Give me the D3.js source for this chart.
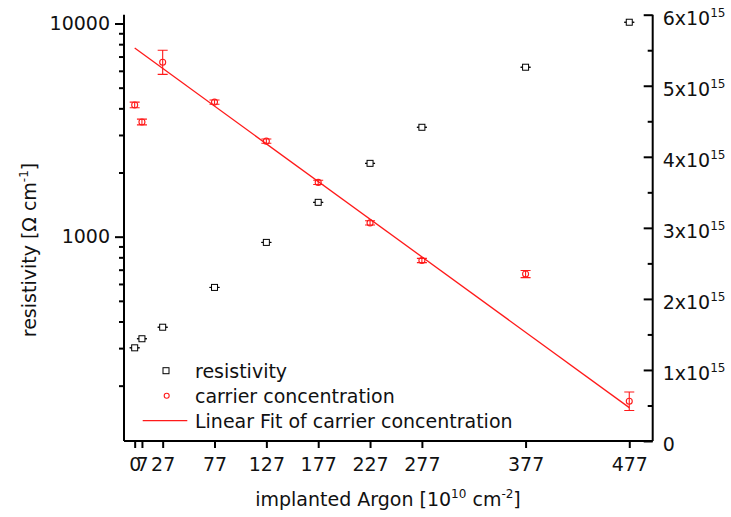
<!DOCTYPE html>
<html>
<head>
<meta charset="utf-8">
<script src="https://cdn.jsdelivr.net/npm/d3@7"></script>
<style>
  body { margin: 0; background: #fff; }
  svg { display: block; font-family: "DejaVu Sans", sans-serif; }
  .axis path, .axis line { stroke: #000; stroke-width: 2; }
</style>
</head>
<body>
<svg id="chart"></svg>
<script>
// implanted Argon dose [1e10 cm^-2]
const dose = [0, 7, 27, 77, 127, 177, 227, 277, 377, 477];
// resistivity [Ohm cm], left log axis
const resistivity = [301, 332, 376, 578, 940, 1449, 2208, 3260, 6237, 10140];
const resistivityErr = [0, 0, 0, 0, 0, 0, 0, 0, 0, 0];
// carrier concentration [cm^-3], right axis
const carrier = [4.73e15, 4.49e15, 5.33e15, 4.77e15, 4.22e15, 3.64e15, 3.07e15, 2.54e15, 2.35e15, 0.56e15];
const carrierErr = [0.04e15, 0.04e15, 0.17e15, 0.03e15, 0.03e15, 0.03e15, 0.03e15, 0.03e15, 0.05e15, 0.13e15];
// linear fit end points
const fitX = [0, 477];
const fitY = [5.53e15, 0.47e15];

const xTicks = [0, 7, 27, 77, 127, 177, 227, 277, 377, 477];
const leftMajor = [1000, 10000];
const leftMinor = [200, 300, 400, 500, 600, 700, 800, 900, 2000, 3000, 4000, 5000, 6000, 7000, 8000, 9000];
const rightMajor = [0, 1e15, 2e15, 3e15, 4e15, 5e15, 6e15];
const rightMinor = [0.5e15, 1.5e15, 2.5e15, 3.5e15, 4.5e15, 5.5e15];
const legendLabels = ['resistivity', 'carrier concentration', 'Linear Fit of carrier concentration'];

const width = 731, height = 517;
const margin = { top: 14.7, right: 78.3, bottom: 76, left: 124 };
const innerWidth = width - margin.left - margin.right;
const innerHeight = height - margin.top - margin.bottom;
const RED = '#ff1a1a';
const FONT = '"DejaVu Sans", sans-serif';

const svg = d3.select('#chart')
  .attr('width', width)
  .attr('height', height)
  .attr('viewBox', `0 0 ${width} ${height}`);

const g = svg.append('g').attr('transform', `translate(${margin.left}, ${margin.top})`);

const xScale = d3.scaleLinear().domain([-10.3, 499.6]).range([0, innerWidth]);
const yLeft = d3.scaleLog().domain([110, 11000]).range([innerHeight, 0]);
const yRight = d3.scaleLinear().domain([0, 6e15]).range([innerHeight, 0]);

function styleAxis(sel) {
  sel.attr('font-family', FONT).attr('font-size', 19);
  sel.selectAll('text').attr('fill', '#111');
}

// minor ticks only: drop the axis line and the empty labels
function minorOnly(sel) {
  sel.select('.domain').remove();
  sel.selectAll('text').remove();
}

// X axis
const xAxis = g.append('g')
  .attr('class', 'axis')
  .attr('transform', `translate(0, ${innerHeight})`)
  .call(d3.axisBottom(xScale).tickValues(xTicks).tickSize(7).tickSizeOuter(0).tickPadding(10).tickFormat(d3.format('d')))
  .call(styleAxis);
xAxis.select('.domain').attr('d', `M0,0H${innerWidth}`);

// Left axis (log)
g.append('g')
  .attr('class', 'axis')
  .call(d3.axisLeft(yLeft).tickValues(leftMinor).tickSize(5).tickSizeOuter(0).tickFormat(''))
  .call(minorOnly);
const leftAxis = g.append('g')
  .attr('class', 'axis')
  .call(d3.axisLeft(yLeft).tickValues(leftMajor).tickSize(9).tickSizeOuter(0).tickPadding(5).tickFormat(d3.format('d')))
  .call(styleAxis);
leftAxis.select('.domain').attr('d', `M0,0V${innerHeight}`);

// Right axis, ticks pointing inward
g.append('g')
  .attr('class', 'axis')
  .attr('transform', `translate(${innerWidth}, 0)`)
  .call(d3.axisRight(yRight).tickValues(rightMinor).tickSize(-5).tickSizeOuter(0).tickFormat(''))
  .call(minorOnly);
const rightAxis = g.append('g')
  .attr('class', 'axis')
  .attr('transform', `translate(${innerWidth}, 0)`)
  .call(d3.axisRight(yRight).tickValues(rightMajor).tickSize(-9).tickSizeOuter(0).tickPadding(10))
  .call(styleAxis);
rightAxis.select('.domain').attr('d', `M0,0V${innerHeight}`);
rightAxis.selectAll('.tick text')
  .attr('dy', '0.5em')
  .each(function(d) {
    const t = d3.select(this).text('');
    if (d === 0) { t.text('0'); return; }
    t.append('tspan').text(`${Math.round(d / 1e15)}x10`);
    t.append('tspan').attr('font-size', '12px').attr('dy', '-8').text('15');
  });

// Axis titles
svg.append('text')
  .attr('x', 388)
  .attr('y', 506)
  .attr('text-anchor', 'middle')
  .attr('font-size', '19px')
  .attr('fill', '#111')
  .call(t => {
    t.append('tspan').text('implanted Argon [10');
    t.append('tspan').attr('font-size', '12px').attr('dy', '-8').text('10');
    t.append('tspan').attr('dy', '8').text(' cm');
    t.append('tspan').attr('font-size', '12px').attr('dy', '-8').text('-2');
    t.append('tspan').attr('dy', '8').text(']');
  });

svg.append('text')
  .attr('transform', 'rotate(-90)')
  .attr('x', -250)
  .attr('y', 36)
  .attr('text-anchor', 'middle')
  .attr('font-size', '19px')
  .attr('fill', '#111')
  .call(t => {
    t.append('tspan').text('resistivity [Ω cm');
    t.append('tspan').attr('font-size', '12px').attr('dy', '-8').text('-1');
    t.append('tspan').attr('dy', '8').text(']');
  });

// Linear fit
const line = d3.line()
  .x(d => xScale(d[0]))
  .y(d => yRight(d[1]));
g.append('path')
  .datum(d3.zip(fitX, fitY))
  .attr('fill', 'none')
  .attr('stroke', RED)
  .attr('stroke-width', 1.3)
  .attr('d', line);

// Resistivity points with (tiny) error bars
const resData = dose.map((x, i) => ({ x, y: resistivity[i], e: resistivityErr[i] }));
const resG = g.append('g').selectAll('g').data(resData).join('g');
resG.append('path')
  .attr('fill', 'none')
  .attr('stroke', '#000')
  .attr('stroke-width', 1)
  .attr('d', d => {
    const cx = xScale(d.x), y1 = yLeft(d.y + d.e), y2 = yLeft(Math.max(d.y - d.e, 1));
    return `M${cx - 5},${y1}H${cx + 5}M${cx},${y1}V${y2}M${cx - 5},${y2}H${cx + 5}`;
  });
resG.append('rect')
  .attr('x', d => xScale(d.x) - 3)
  .attr('y', d => yLeft(d.y) - 3)
  .attr('width', 6)
  .attr('height', 6)
  .attr('fill', '#fff')
  .attr('stroke', '#000')
  .attr('stroke-width', 1);

// Carrier concentration points with error bars
const carData = dose.map((x, i) => ({ x, y: carrier[i], e: carrierErr[i] }));
const carG = g.append('g').selectAll('g').data(carData).join('g');
carG.append('path')
  .attr('fill', 'none')
  .attr('stroke', RED)
  .attr('stroke-width', 1.1)
  .attr('d', d => {
    const cx = xScale(d.x), y1 = yRight(d.y + d.e), y2 = yRight(d.y - d.e);
    return `M${cx - 5},${y1}H${cx + 5}M${cx},${y1}V${y2}M${cx - 5},${y2}H${cx + 5}`;
  });
carG.append('circle')
  .attr('cx', d => xScale(d.x))
  .attr('cy', d => yRight(d.y))
  .attr('r', 3)
  .attr('fill', 'none')
  .attr('stroke', RED)
  .attr('stroke-width', 1.1);

// Legend
const legend = svg.append('g');
legend.append('rect')
  .attr('x', 163).attr('y', 367.7).attr('width', 6).attr('height', 6)
  .attr('fill', 'none').attr('stroke', '#000').attr('stroke-width', 1);
legend.append('circle')
  .attr('cx', 166.7).attr('cy', 395.7).attr('r', 2.5)
  .attr('fill', 'none').attr('stroke', RED).attr('stroke-width', 1.1);
legend.append('line')
  .attr('x1', 142.7).attr('x2', 187.3).attr('y1', 420.7).attr('y2', 420.7)
  .attr('stroke', RED).attr('stroke-width', 1.3);
legend.selectAll('text.lbl')
  .data(legendLabels)
  .join('text')
  .attr('class', 'lbl')
  .attr('x', 195)
  .attr('y', (d, i) => 377.7 + i * 25)
  .attr('font-size', '19px')
  .attr('fill', '#111')
  .text(d => d);
</script>
</body>
</html>
